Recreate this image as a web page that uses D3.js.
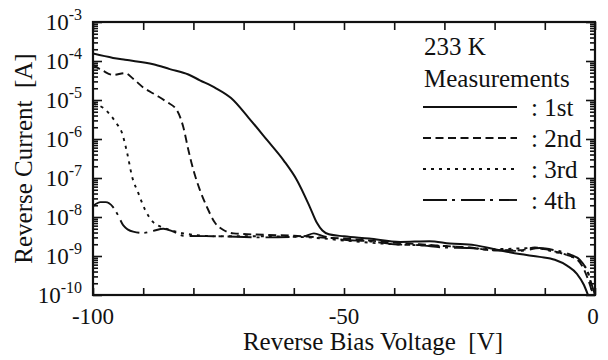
<!DOCTYPE html>
<html><head><meta charset="utf-8">
<script src="https://cdn.jsdelivr.net/npm/d3@7"></script>
<style>body{margin:0;background:#fff}svg{display:block}svg text{font-family:"Liberation Serif","DejaVu Serif",serif}</style>
</head><body><svg id="c" width="608" height="360"></svg>
<script>
// ---- data ----
const v1 = [-100,-96,-93.6,-88,-84.7,-81,-78.7,-75.5,-72.5,-69,-65.3,-62,-59.4,-56.8,-55.4,-54.3,-53,-50,-45,-38.8,-33,-28.9,-24,-19,-15,-11,-8,-5.5,-3.6,-2.2,-1.4];
const i1 = [1.55e-4,1.2e-4,1.07e-4,8.3e-5,6.2e-5,4.5e-5,3.2e-5,2.0e-5,1.12e-5,3.5e-6,9.3e-7,2.8e-7,8.9e-8,1.8e-8,7.1e-9,4.5e-9,3.6e-9,3.2e-9,2.8e-9,2.3e-9,2.4e-9,2.1e-9,1.9e-9,1.4e-9,1.12e-9,9.5e-10,8e-10,5.6e-10,3.5e-10,1.8e-10,1e-10];

const v2 = [-100,-98,-96,-93.6,-92,-90,-87.5,-85.3,-83.3,-82,-81,-80,-78.7,-77.3,-75.7,-74.1,-72,-66,-60,-55,-50,-45,-40,-35,-30,-25,-20,-15,-12,-9,-6,-3.5,-2,-1,-0.4];
const i2 = [8e-5,5.6e-5,4.4e-5,4.9e-5,3.5e-5,2.1e-5,1.35e-5,8.9e-6,5.5e-6,2.0e-6,5.2e-7,1.6e-7,4.9e-8,1.8e-8,7.1e-9,4.7e-9,3.8e-9,3.5e-9,3.3e-9,3.0e-9,2.8e-9,2.5e-9,2.2e-9,2.0e-9,1.8e-9,1.65e-9,1.4e-9,1.4e-9,1.65e-9,1.4e-9,1.1e-9,8e-10,4e-10,1.8e-10,1e-10];

const v3 = [-100,-98,-96.6,-95.3,-94.2,-93.2,-92.2,-91,-89.6,-88,-86.3,-84.7,-82,-75,-65,-57,-50,-45,-40,-30,-20,-12,-8,-5,-2.5,-1.2,-0.5];
const i3 = [8e-6,6.3e-6,4.2e-6,2.5e-6,1.4e-6,4.4e-7,1.07e-7,4.2e-8,1.5e-8,7.4e-9,5.5e-9,4.7e-9,3.8e-9,3.2e-9,3.2e-9,3.0e-9,2.5e-9,2.2e-9,2.0e-9,1.8e-9,1.5e-9,1.6e-9,1.26e-9,1e-9,6.3e-10,3.2e-10,1e-10];

const v4 = [-100,-98.5,-97.5,-96,-95,-94,-92,-90,-88,-86,-84,-82,-75,-66,-58,-56,-54,-50,-45,-40,-35,-30,-25,-20,-15,-11,-8,-5,-3,-1.5,-0.5,0];
const i4 = [1.9e-8,2.4e-8,2.4e-8,1.8e-8,1.1e-8,6.2e-9,4.2e-9,3.9e-9,4.4e-9,5e-9,4.2e-9,3.3e-9,3.2e-9,3.0e-9,3.2e-9,3.8e-9,3.2e-9,2.6e-9,2.4e-9,2.0e-9,1.9e-9,1.65e-9,1.6e-9,1.4e-9,1.35e-9,1.6e-9,1.4e-9,1.1e-9,8e-10,4e-10,1.6e-10,1e-10];

const xTickValues = [-100,-50,0];
const xTickLabels = ["-100","-50","0"];
const yExponents = [-3,-4,-5,-6,-7,-8,-9,-10];
const legendNames = [": 1st",": 2nd",": 3rd",": 4th"];
const legendTitle = ["233 K","Measurements"];
const xTitle = "Reverse Bias Voltage  [V]";
const yTitle = "Reverse Current  [A]";

// ---- drawing ----
const L=93,R=595,T=22,B=295;
const svg=d3.select("#c");
const x=d3.scaleLinear().domain([-100,0]).range([L,R]);
const y=d3.scaleLog().domain([1e-10,1e-3]).range([B,T]);
function txt(){return svg.append("text").attr("fill","#111");}

const dashes=[null,"8,4.5","3,5","24,5,3,6"];
const series=[[v1,i1],[v2,i2],[v3,i3],[v4,i4]];
const line=d3.line().x(d=>x(d[0])).y(d=>y(d[1])).curve(d3.curveMonotoneX);
svg.append("defs").append("clipPath").attr("id","cp").append("rect").attr("x",L).attr("y",T).attr("width",R-L).attr("height",B-T);
const g=svg.append("g").attr("clip-path","url(#cp)");
series.forEach((s,k)=>{
  const pts=s[0].map((v,j)=>[v,s[1][j]]);
  g.append("path").attr("d",line(pts)).attr("fill","none").attr("stroke","#111")
   .attr("stroke-width",k===0?2:1.9).attr("stroke-dasharray",dashes[k]);
});

// axes
const xMinor=d3.range(-100,1,10);
const yMajor=yExponents.map(e=>Math.pow(10,e));
const yMinor=[];
for(let e=-10;e<-3;e++){for(let m=2;m<=9;m++)yMinor.push(m*Math.pow(10,e));}
function style(sel){sel.select(".domain").remove();sel.selectAll("line").attr("stroke","#111").attr("stroke-width",1.6);}
svg.append("g").attr("transform",`translate(0,${B})`).call(d3.axisBottom(x).tickValues(xMinor).tickSize(-7).tickFormat("")).call(style);
svg.append("g").attr("transform",`translate(0,${T})`).call(d3.axisTop(x).tickValues(xMinor).tickSize(-8).tickFormat("")).call(style);
svg.append("g").attr("transform",`translate(${L},0)`).call(d3.axisLeft(y).tickValues(yMajor).tickSize(-9).tickFormat("")).call(style);
svg.append("g").attr("transform",`translate(${L},0)`).call(d3.axisLeft(y).tickValues(yMinor).tickSize(-5).tickFormat("")).call(style);
svg.append("g").attr("transform",`translate(${R},0)`).call(d3.axisRight(y).tickValues(yMajor).tickSize(-9).tickFormat("")).call(style);
svg.append("g").attr("transform",`translate(${R},0)`).call(d3.axisRight(y).tickValues(yMinor).tickSize(-5).tickFormat("")).call(style);
svg.append("rect").attr("x",L).attr("y",T).attr("width",R-L).attr("height",B-T).attr("fill","none").attr("stroke","#111").attr("stroke-width",2.2);

// x labels
xTickValues.forEach((v,k)=>{
  txt().attr("x",x(v)+(k===2?-2:0)).attr("y",B+29).attr("text-anchor","middle").attr("font-size",23).text(xTickLabels[k]);
});
// y labels
yExponents.forEach(e=>{
  const t=txt().attr("x",82).attr("y",y(Math.pow(10,e))+8).attr("text-anchor","end").attr("font-size",23);
  t.append("tspan").text("10");
  t.append("tspan").attr("font-size",16).attr("dy",-10).text(String(e));
});
// titles
txt().attr("x",373).attr("y",350).attr("text-anchor","middle").attr("font-size",25).style("white-space","pre").text(xTitle);
txt().attr("transform",`translate(32,${(T+B)/2}) rotate(-90)`).attr("text-anchor","middle").attr("font-size",25).style("white-space","pre").text(yTitle);

// legend
txt().attr("x",424).attr("y",55).attr("font-size",25).text(legendTitle[0]);
txt().attr("x",424).attr("y",87).attr("font-size",25).text(legendTitle[1]);
legendNames.forEach((n,k)=>{
  const ly=107+k*31;
  svg.append("line").attr("x1",423).attr("x2",517).attr("y1",ly).attr("y2",ly).attr("stroke","#111")
    .attr("stroke-width",k===0?2:1.9).attr("stroke-dasharray",dashes[k]);
  txt().attr("x",531).attr("y",ly+9).attr("font-size",25).text(n);
});
</script></body></html>
